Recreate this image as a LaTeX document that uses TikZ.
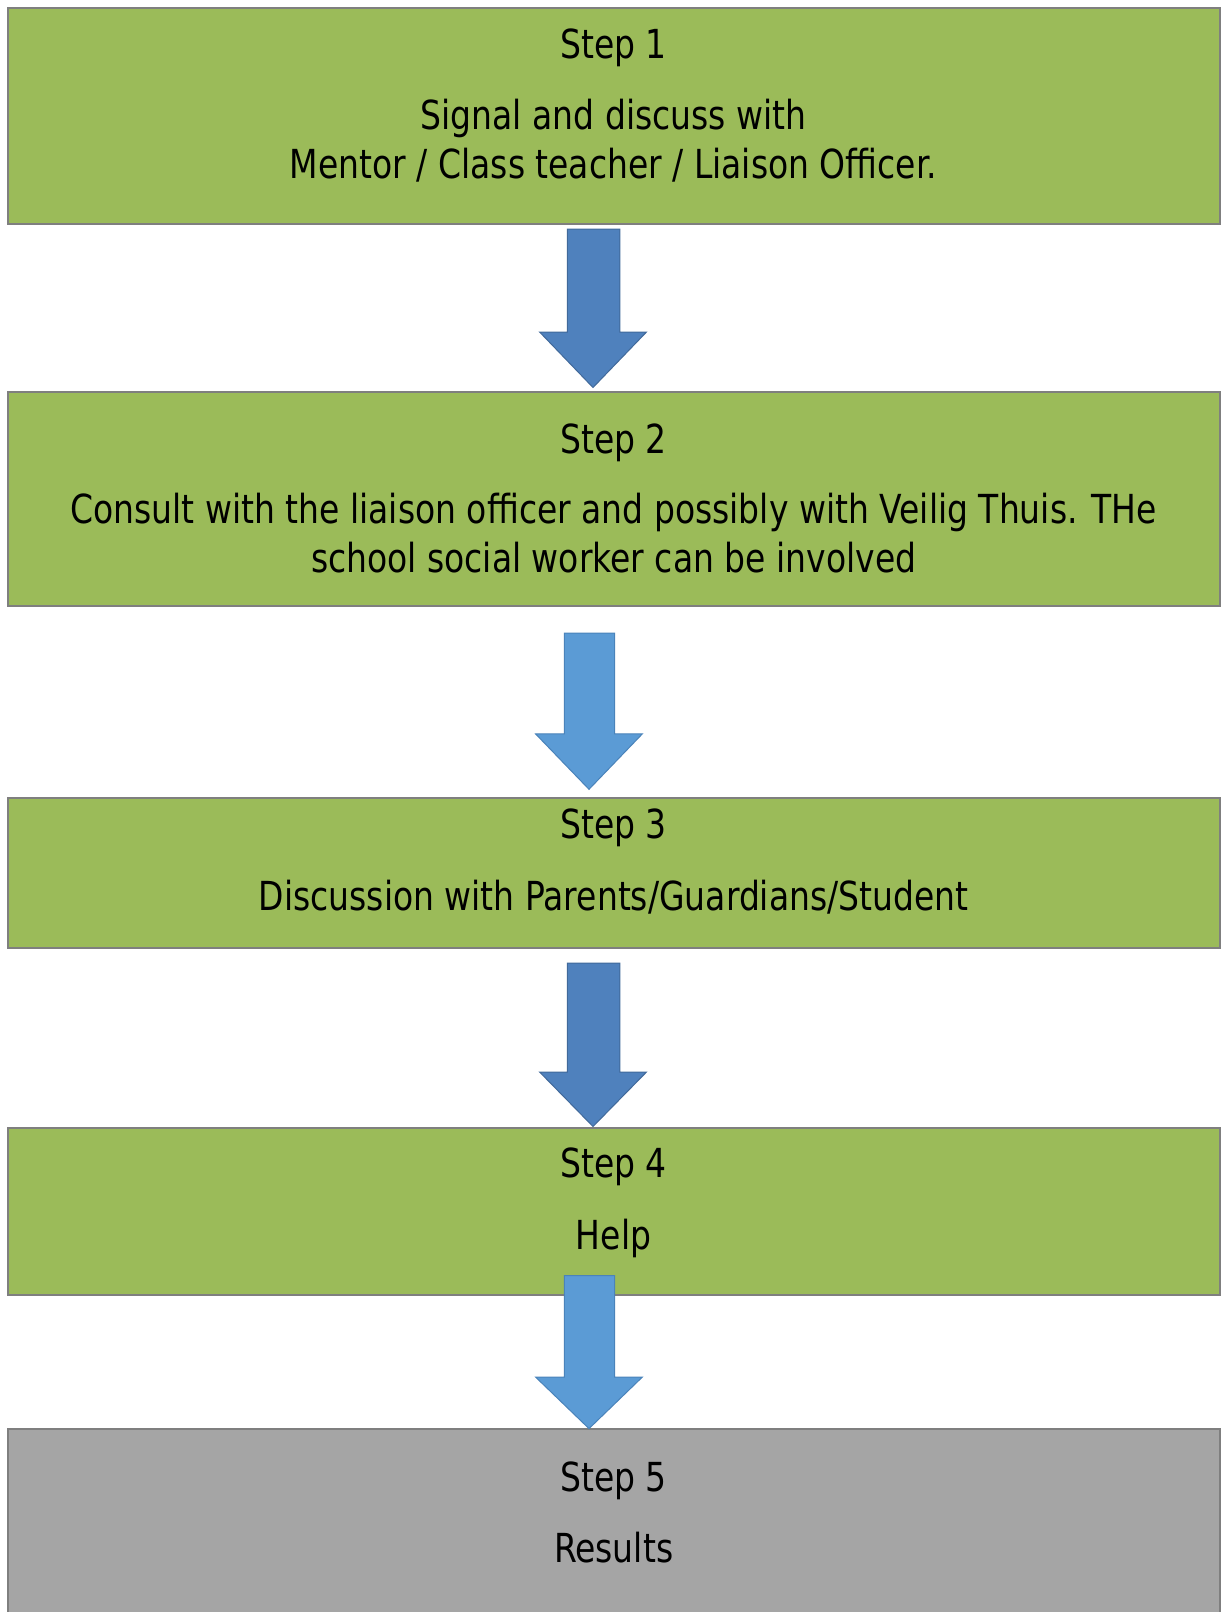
\documentclass[tikz,border=0pt]{standalone}
\usepackage{fontspec}
\setmainfont{DejaVu Sans}[FakeStretch=0.825]
\definecolor{boxgreen}{HTML}{9BBB59}
\definecolor{boxgray}{HTML}{A5A5A5}
\definecolor{edgegray}{HTML}{7F7F7F}
\definecolor{arrdark}{HTML}{4F81BD}
\definecolor{arrdarkedge}{HTML}{41699A}
\definecolor{arrlight}{HTML}{5B9BD5}
\definecolor{arrlightedge}{HTML}{4A83BA}
\begin{document}
\begin{tikzpicture}[x=0.5pt,y=-0.5pt,
  stepbox/.style={draw=edgegray, line width=1pt, minimum width=606pt, inner sep=0pt},
  greenbox/.style={stepbox, fill=boxgreen},
  graybox/.style={stepbox, fill=boxgray},
  txt/.style={anchor=base, inner sep=0pt, font=\fontsize{20}{24.5}\selectfont, text=black},
  darrow/.style={fill=arrdark, draw=arrdarkedge, line width=0.5pt, line join=miter},
  larrow/.style={fill=arrlight, draw=arrlightedge, line width=0.5pt, line join=miter}]
\useasboundingbox (0,0) rectangle (1221,1612);
\clip (0,0) rectangle (1221,1612);
\fill[white] (0,0) rectangle (1221,1612);
% boxes
\node[greenbox, minimum height=108pt] (b1) at (614,116) {};
\node[greenbox, minimum height=107.4pt] (b2) at (614,499) {};
\node[greenbox, minimum height=75pt] (b3) at (614,872.6) {};
\node[greenbox, minimum height=83.75pt] (b4) at (614,1211.25) {};
\node[graybox, minimum height=106pt] (b5) at (614,1534.6) {};
% arrows
\draw[darrow] (567.3,229) -- (619.8,229) -- (619.8,332) -- (646.5,332) -- (593,387.5) -- (539.6,332) -- (567.3,332) -- cycle;
\draw[larrow] (564.3,633) -- (614.6,633) -- (614.6,733.8) -- (642.4,733.8) -- (589,789.3) -- (535.5,733.8) -- (564.3,733.8) -- cycle;
\draw[darrow] (567.3,963) -- (619.8,963) -- (619.8,1072) -- (646.5,1072) -- (593,1126.5) -- (539.6,1072) -- (567.3,1072) -- cycle;
\draw[larrow] (564.3,1275.5) -- (614.6,1275.5) -- (614.6,1377) -- (642.4,1377) -- (589,1428.6) -- (535.5,1377) -- (564.3,1377) -- cycle;
% texts
\node[txt] (t1a) at (613.6,58.6) {Step 1};
\node[txt] (t1b) at (613.6,129.5) {Signal and discuss with};
\node[txt] (t1c) at (613.6,178.8) {Mentor / Class teacher / Liaison Officer.};
\node[txt] (t2a) at (613.6,453.3) {Step 2};
\node[txt] (t2b) at (613.6,523.1) {Consult with the liaison officer and possibly with Veilig Thuis. THe};
\node[txt] (t2c) at (613.6,572.5) {school social worker can be involved};
\node[txt] (t3a) at (613.6,838.7) {Step 3};
\node[txt] (t3b) at (613.6,910.6) {Discussion with Parents/Guardians/Student};
\node[txt] (t4a) at (613.6,1177.9) {Step 4};
\node[txt] (t4b) at (613.6,1249.8) {Help};
\node[txt] (t5a) at (613.6,1491.3) {Step 5};
\node[txt] (t5b) at (613.6,1562.3) {Results};
\end{tikzpicture}
\end{document}
